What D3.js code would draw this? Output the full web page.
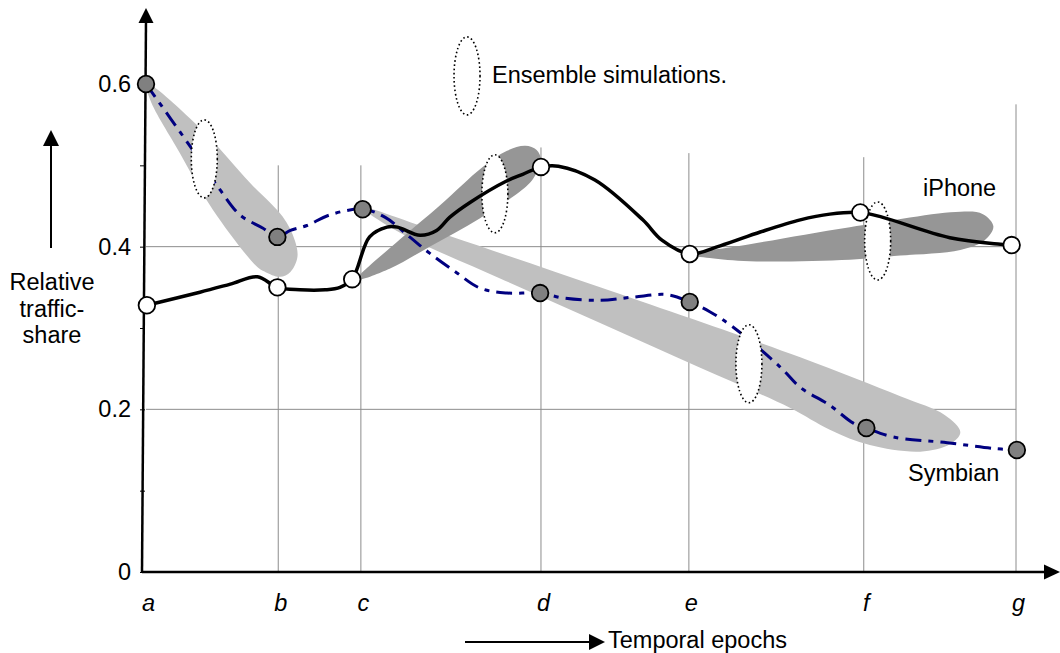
<!DOCTYPE html>
<html>
<head>
<meta charset="utf-8">
<script src="https://cdn.jsdelivr.net/npm/d3@7"></script>
<style>
  html, body { margin: 0; padding: 0; background: #fff; }
  svg { display: block; }
  text { font-family: "Liberation Sans", Arial, sans-serif; fill: #000; }
</style>
</head>
<body>
<svg id="chart" width="1060" height="653"></svg>
<script>
// ---------------- DATA ----------------
const epochs = ["a", "b", "c", "d", "e", "f", "g"];
const epochT = [0, 1.52, 2.47, 4.54, 6.24, 8.25, 10.0];
const gridTopV = [null, 0.50, 0.50, 0.522, 0.515, 0.51, 0.575];
const yTickValues = [0, 0.1, 0.2, 0.3, 0.4, 0.5, 0.6];
const yTickLabels = ["0", "", "0.2", "", "0.4", "", "0.6"];
const hGrid = [0.2, 0.4];

// marker points
const iphoneT = [0.01, 1.51, 2.37, 4.54, 6.25, 8.21, 9.95];
const iphoneShare = [0.328, 0.350, 0.360, 0.498, 0.391, 0.442, 0.402];
const symbianT = [0, 1.51, 2.49, 4.53, 6.25, 8.28, 10.01];
const symbianShare = [0.600, 0.412, 0.446, 0.343, 0.332, 0.177, 0.150];

// traced curves [t, share]
const iphoneCurve = [
  [0.01, 0.328], [0.62, 0.344], [0.97, 0.354], [1.28, 0.363], [1.51, 0.350],
  [1.77, 0.347], [2.06, 0.347], [2.23, 0.350], [2.37, 0.360], [2.57, 0.412],
  [2.77, 0.424], [2.89, 0.424], [3.15, 0.414], [3.34, 0.420], [3.49, 0.436],
  [3.72, 0.454], [4.15, 0.481], [4.33, 0.489], [4.54, 0.498], [4.74, 0.499],
  [5.16, 0.482], [5.71, 0.433], [5.93, 0.408], [6.25, 0.391], [6.60, 0.401],
  [7.06, 0.418], [7.52, 0.433], [7.86, 0.440], [8.21, 0.442], [8.47, 0.436],
  [9.24, 0.411], [9.82, 0.403], [9.95, 0.402]
];
const symbianCurve = [
  [0, 0.600], [0.51, 0.523], [0.85, 0.470], [1.08, 0.439], [1.34, 0.423],
  [1.51, 0.412], [1.66, 0.420], [1.85, 0.426], [2.11, 0.439], [2.49, 0.446],
  [2.75, 0.436], [3.03, 0.412], [3.26, 0.392], [3.57, 0.368], [3.84, 0.349],
  [4.15, 0.343], [4.53, 0.343], [4.79, 0.337], [5.22, 0.334], [5.60, 0.338],
  [5.99, 0.341], [6.25, 0.332], [6.48, 0.320], [6.75, 0.301], [7.29, 0.252],
  [7.52, 0.227], [7.86, 0.205], [8.13, 0.183], [8.28, 0.177], [8.59, 0.166],
  [9.21, 0.159], [9.74, 0.152], [10.01, 0.150]
];

// ensemble spread plumes [t, share]
const plumeAB = [
  [0.01, 0.600], [0.62, 0.546], [1.20, 0.478], [1.57, 0.437], [1.71, 0.408],
  [1.74, 0.387], [1.66, 0.369], [1.54, 0.363], [1.37, 0.369], [1.28, 0.375],
  [0.77, 0.445], [0.39, 0.515], [0.05, 0.580]
];
const plumeCD = [
  [2.43, 0.360], [2.92, 0.409], [3.38, 0.451], [3.87, 0.498], [4.15, 0.518],
  [4.36, 0.524], [4.49, 0.519], [4.54, 0.507], [4.49, 0.491], [4.39, 0.476],
  [3.84, 0.435], [3.26, 0.400], [2.80, 0.373]
];
const plumeCF = [
  [2.49, 0.448], [3.49, 0.413], [5.22, 0.350], [7.52, 0.264], [8.67, 0.216],
  [9.18, 0.193], [9.36, 0.172], [9.24, 0.157], [8.90, 0.148], [8.32, 0.156],
  [7.86, 0.175], [7.40, 0.202], [6.37, 0.251], [5.22, 0.306], [4.07, 0.361],
  [2.92, 0.417]
];
const plumeEG = [
  [6.25, 0.390], [6.94, 0.403], [8.09, 0.424], [9.36, 0.443], [9.62, 0.440],
  [9.74, 0.425], [9.64, 0.408], [9.36, 0.396], [8.67, 0.389], [8.09, 0.384],
  [6.94, 0.382], [6.48, 0.386]
];
// ensemble-simulation ellipse centres [t, share]
const ensembleCentres = [[0.67, 0.508], [4.01, 0.465], [6.93, 0.256], [8.41, 0.407]];
const legendCentre = [3.69, 0.610];

// ---------------- DRAW ----------------
const svg = d3.select("#chart");
const x = d3.scaleLinear().domain([0, 10]).range([146, 1016]);
const y = d3.scaleLinear().domain([0, 0.6]).range([572, 84]);
const FS = 23.5;

// grid
const grid = svg.append("g").attr("stroke", "#8c8c8c").attr("stroke-width", 1);
hGrid.forEach(v => grid.append("line")
  .attr("x1", x(0)).attr("x2", x(10)).attr("y1", y(v)).attr("y2", y(v)));
epochT.forEach((t, i) => {
  if (gridTopV[i] == null) return;
  grid.append("line").attr("x1", x(t)).attr("x2", x(t))
    .attr("y1", y(gridTopV[i])).attr("y2", y(0));
});

// plumes
const area = d3.line().x(d => x(d[0])).y(d => y(d[1])).curve(d3.curveCatmullRomClosed.alpha(0.5));
svg.append("path").attr("d", area(plumeAB)).attr("fill", "#c0c0c0");
svg.append("path").attr("d", area(plumeCF)).attr("fill", "#c0c0c0");
svg.append("path").attr("d", area(plumeCD)).attr("fill", "#969696");
svg.append("path").attr("d", area(plumeEG)).attr("fill", "#969696");

// Symbian curve (under the ensemble ellipses)
const line = d3.line().x(d => x(d[0])).y(d => y(d[1])).curve(d3.curveCatmullRom.alpha(0.5));
svg.append("path").attr("d", line(symbianCurve)).attr("fill", "none")
  .attr("stroke", "#000080").attr("stroke-width", 3).attr("stroke-dasharray", "16,7,5,7");

// ellipses
function ens(c) {
  svg.append("ellipse").attr("cx", x(c[0])).attr("cy", y(c[1]))
    .attr("rx", 13).attr("ry", 39)
    .attr("fill", "#fff").attr("stroke", "#000").attr("stroke-width", 1.6)
    .attr("stroke-dasharray", "1.6,2.6");
}
ensembleCentres.forEach(ens);
ens(legendCentre);
svg.append("text").attr("x", x(legendCentre[0]) + 25).attr("y", y(legendCentre[1]) + 7)
  .attr("font-size", FS).text("Ensemble simulations.");

// iPhone curve
svg.append("path").attr("d", line(iphoneCurve)).attr("fill", "none")
  .attr("stroke", "#000").attr("stroke-width", 3.5).attr("stroke-linejoin", "round");

// axes
const axisG = svg.append("g");
axisG.append("line").attr("x1", x(0) - 4).attr("y1", y(0)).attr("x2", x(0)).attr("y2", 20)
  .attr("stroke", "#000").attr("stroke-width", 2.5);
axisG.append("path").attr("d", `M${x(0)},8 L${x(0) - 7.5},23 L${x(0) + 7.5},23 Z`).attr("fill", "#000");
axisG.append("line").attr("x1", x(0) - 4).attr("y1", y(0)).attr("x2", 1046).attr("y2", y(0))
  .attr("stroke", "#000").attr("stroke-width", 2.5);
axisG.append("path").attr("d", `M1060,${y(0)} L1044,${y(0) - 7.5} L1044,${y(0) + 7.5} Z`).attr("fill", "#000");

const yAxis = d3.axisLeft(y).tickValues(yTickValues).tickSize(5).tickPadding(9)
  .tickFormat((d, i) => yTickLabels[i]);
const gy = svg.append("g").attr("transform", `translate(${x(0) - 1},0)`).call(yAxis);
gy.select(".domain").remove();
gy.selectAll(".tick line").attr("stroke", "#000").attr("stroke-width", 1);
gy.selectAll(".tick text").attr("font-size", FS).attr("font-family", "Liberation Sans, Arial, sans-serif")
  .attr("fill", "#000");

const xAxis = d3.axisBottom(x).tickValues(epochT).tickSize(0).tickPadding(22)
  .tickFormat((d, i) => epochs[i]);
const gx = svg.append("g").attr("transform", `translate(2,${y(0)})`).call(xAxis);
gx.select(".domain").remove();
gx.selectAll(".tick text").attr("font-size", FS).attr("font-style", "italic")
  .attr("font-family", "Liberation Sans, Arial, sans-serif").attr("fill", "#000");

// markers
function markers(ts, vs, fill) {
  svg.append("g").selectAll("circle").data(vs).join("circle")
    .attr("cx", (d, i) => x(ts[i])).attr("cy", d => y(d)).attr("r", 8.3)
    .attr("fill", fill).attr("stroke", "#000").attr("stroke-width", 1.8);
}
markers(symbianT, symbianShare, "#808080");
markers(iphoneT, iphoneShare, "#fff");

// series labels
svg.append("text").attr("x", 923).attr("y", 196).attr("font-size", FS).text("iPhone");
svg.append("text").attr("x", 908).attr("y", 481).attr("font-size", FS).text("Symbian");

// y label with arrow
svg.append("line").attr("x1", 51).attr("x2", 51).attr("y1", 248).attr("y2", 145)
  .attr("stroke", "#000").attr("stroke-width", 2);
svg.append("path").attr("d", "M51,130 L43,146 L59,146 Z").attr("fill", "#000");
const yl = svg.append("text").attr("text-anchor", "middle").attr("font-size", FS);
["Relative", "traffic-", "share"].forEach((s, i) =>
  yl.append("tspan").attr("x", 52).attr("y", 290 + i * 26.5).text(s));

// x label with arrow
svg.append("line").attr("x1", 465).attr("x2", 590).attr("y1", 642).attr("y2", 642)
  .attr("stroke", "#000").attr("stroke-width", 2);
svg.append("path").attr("d", "M605,642 L589,634 L589,650 Z").attr("fill", "#000");
svg.append("text").attr("x", 608).attr("y", 648).attr("font-size", FS).text("Temporal epochs");
</script>
</body>
</html>
